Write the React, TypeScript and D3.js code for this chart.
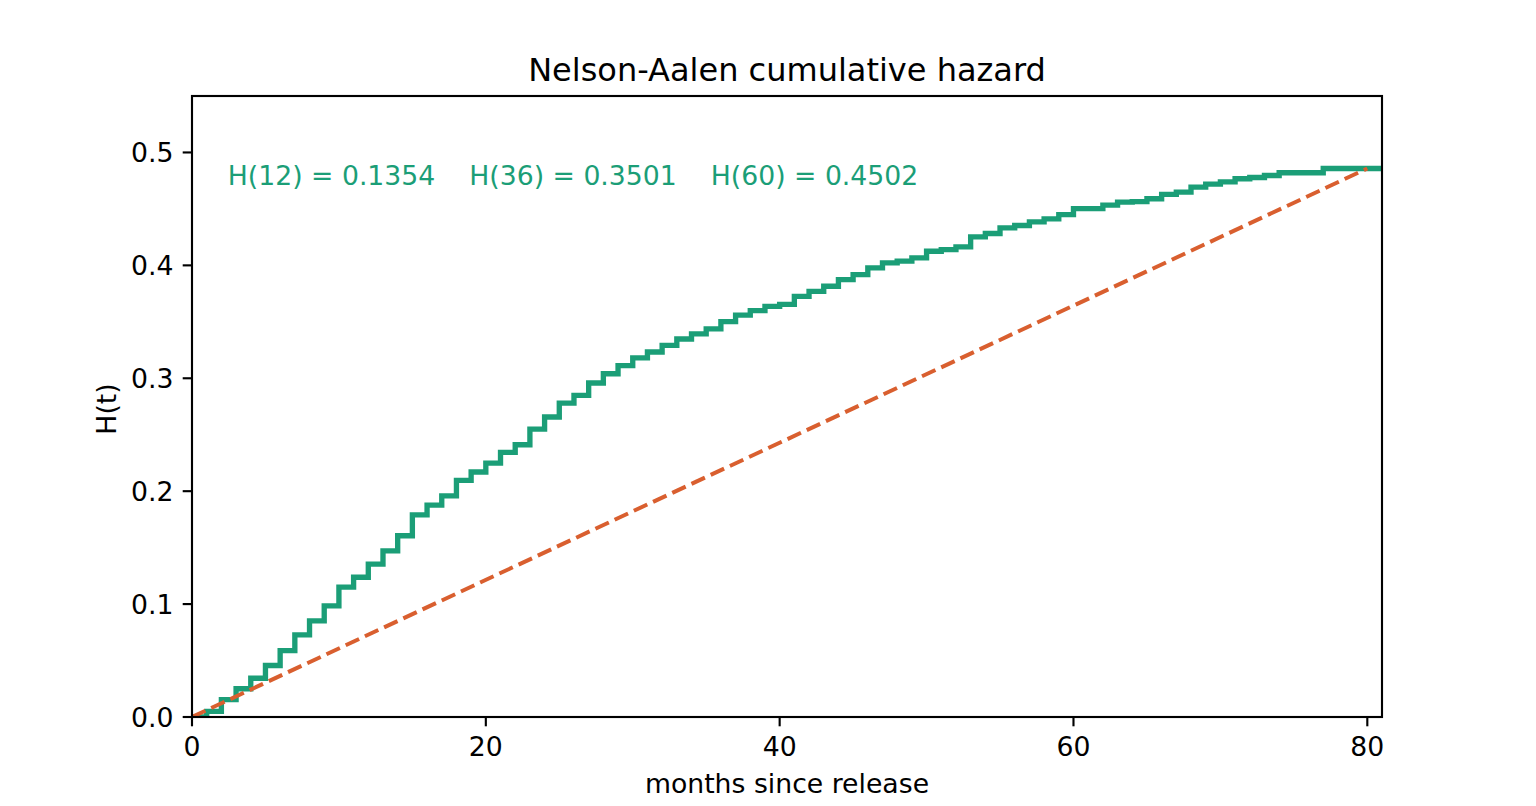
import React from "react";
import * as d3 from "d3";

const months: number[] = Array.from({ length: 82 }, (_, i) => i);
const hazard: number[] = [
  0, 0.005, 0.0154, 0.025, 0.0343, 0.0456, 0.0588, 0.0727, 0.0851, 0.0984,
  0.115, 0.1238, 0.1354, 0.1472, 0.1605, 0.179, 0.1877, 0.1959, 0.2095, 0.217,
  0.2249, 0.2343, 0.2411, 0.255, 0.2657, 0.278, 0.2849, 0.2958, 0.304, 0.3112,
  0.318, 0.3233, 0.3292, 0.3348, 0.3393, 0.3437, 0.3501, 0.356, 0.3599, 0.3637,
  0.3655, 0.3726, 0.377, 0.3815, 0.3874, 0.3918, 0.3978, 0.4022, 0.4037, 0.4066,
  0.4125, 0.414, 0.4164, 0.4252, 0.4282, 0.4332, 0.4353, 0.4385, 0.4412, 0.445,
  0.4502, 0.4502, 0.4533, 0.456, 0.4565, 0.459, 0.4628, 0.4648, 0.4693, 0.472,
  0.474, 0.4767, 0.4778, 0.4796, 0.482, 0.482, 0.482, 0.4858, 0.4858, 0.4858,
  0.4858, 0.4858,
];
const refLineX: number[] = [0, 80];
const refLineY: number[] = [0, 0.4858];
const xTicks: number[] = [0, 20, 40, 60, 80];
const yTicks: number[] = [0, 0.1, 0.2, 0.3, 0.4, 0.5];
const annotation = "H(12) = 0.1354    H(36) = 0.3501    H(60) = 0.4502";

const W = 1536;
const H = 806;
const L = 192, R = 1382, T = 96, B = 717;
const FONT = "DejaVu Sans, sans-serif";
const GREEN = "#1b9e77";
const ORANGE = "#d95f2f";

export default function App() {
  const x = d3.scaleLinear().domain([0, 81]).range([L, R]);
  const y = d3.scaleLinear().domain([0, 0.55]).range([B, T]);

  const stepLine = d3
    .line<number>()
    .x((_, i) => x(months[i]))
    .y((d) => y(d))
    .curve(d3.curveStepAfter);

  const refLine = d3
    .line<number>()
    .x((_, i) => x(refLineX[i]))
    .y((d) => y(d));

  return (
    <svg
      width={W}
      height={H}
      style={{ position: "absolute", left: 0, top: 0, display: "block", background: "#fff" }}
      fontFamily={FONT}
    >
      <defs>
        <clipPath id="axclip">
          <rect x={L} y={T} width={R - L} height={B - T} />
        </clipPath>
      </defs>
      <rect x={0} y={0} width={W} height={H} fill="#fff" />
      <g clipPath="url(#axclip)">
        <path
          d={stepLine(hazard) || ""}
          fill="none"
          stroke={GREEN}
          strokeWidth={5.33}
          strokeLinejoin="miter"
        />
        <path
          d={refLine(refLineY) || ""}
          fill="none"
          stroke={ORANGE}
          strokeWidth={4}
          strokeDasharray="14.8 6.4"
        />
      </g>
      <text
        x={x(2.5) - 1}
        y={185}
        fontSize={26.7}
        fill={GREEN}
        style={{ whiteSpace: "pre" }}
        xmlSpace="preserve"
      >
        {annotation}
      </text>
      <rect x={L} y={T} width={R - L} height={B - T} fill="none" stroke="#000" strokeWidth={2.13} />
      {xTicks.map((t) => (
        <g key={"x" + t}>
          <line x1={x(t)} x2={x(t)} y1={B} y2={B + 9.3} stroke="#000" strokeWidth={2.13} />
          <text x={x(t)} y={756} fontSize={26.7} textAnchor="middle" fill="#000">
            {t}
          </text>
        </g>
      ))}
      {yTicks.map((t) => (
        <g key={"y" + t}>
          <line x1={L - 9.3} x2={L} y1={y(t)} y2={y(t)} stroke="#000" strokeWidth={2.13} />
          <text x={173.4} y={y(t) + 9.7} fontSize={26.7} textAnchor="end" fill="#000">
            {t.toFixed(1)}
          </text>
        </g>
      ))}
      <text x={(L + R) / 2} y={793} fontSize={26.7} textAnchor="middle" fill="#000">
        months since release
      </text>
      <text
        transform={`translate(116, 409) rotate(-90)`}
        fontSize={26.7}
        textAnchor="middle"
        fill="#000"
      >
        H(t)
      </text>
      <text x={(L + R) / 2} y={81} fontSize={32} textAnchor="middle" fill="#000">
        Nelson-Aalen cumulative hazard
      </text>
    </svg>
  );
}
